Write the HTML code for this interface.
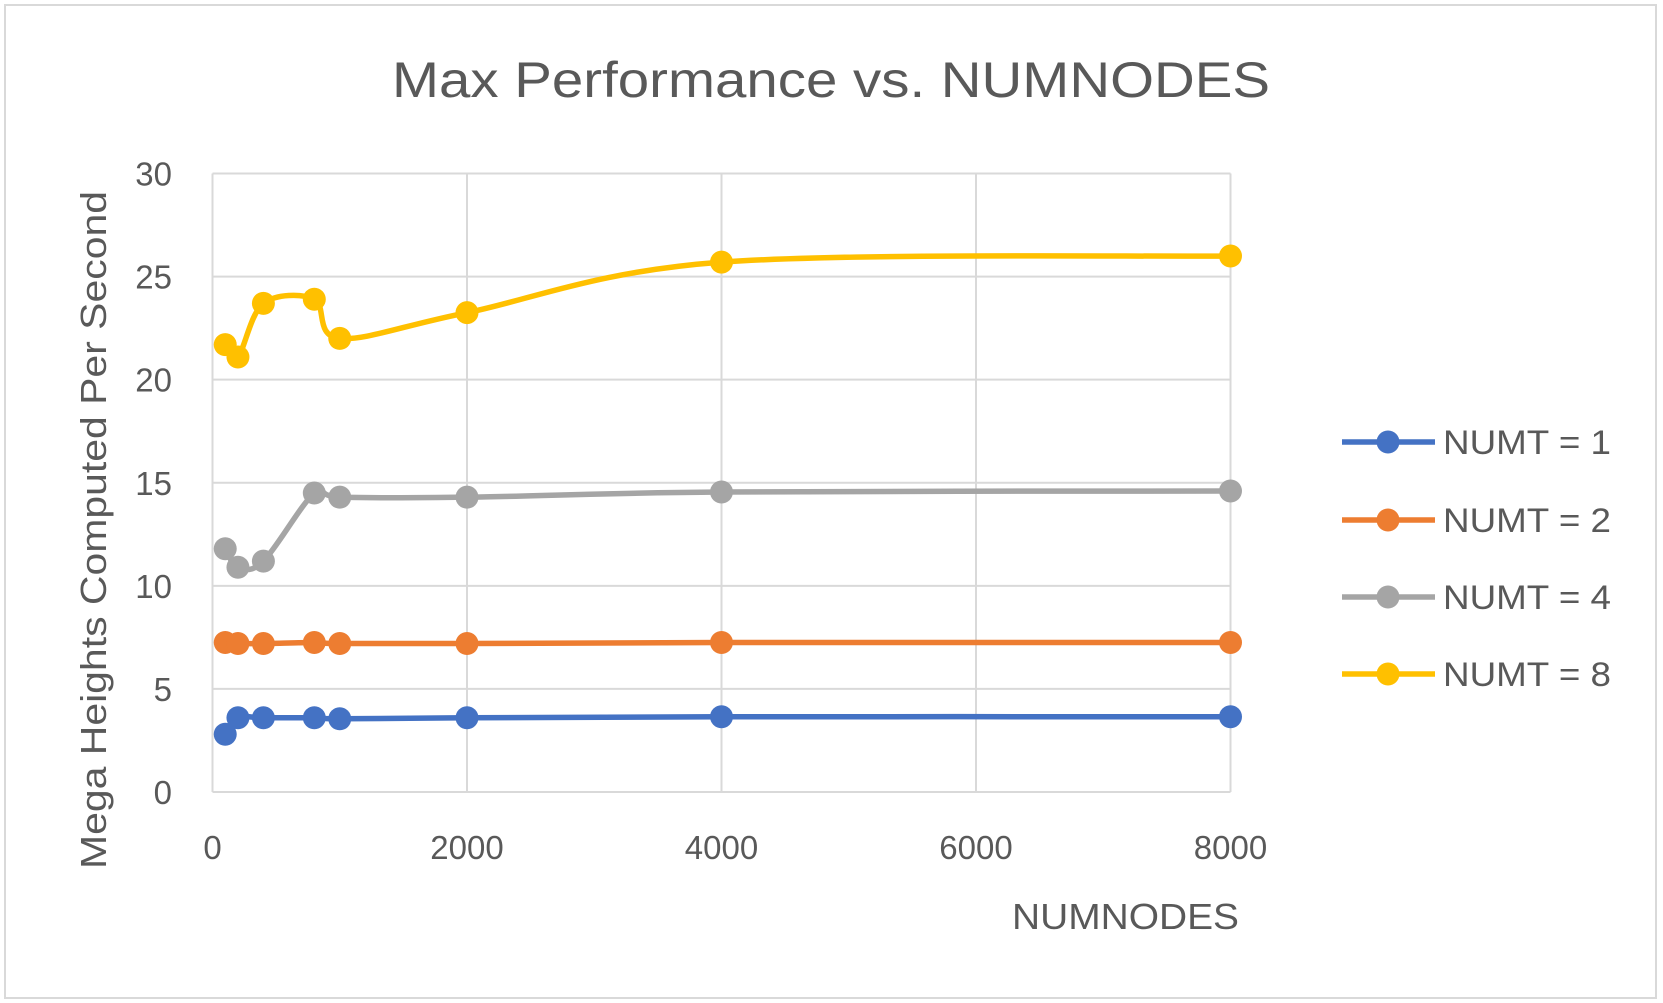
<!DOCTYPE html>
<html><head><meta charset="utf-8"><style>
html,body{margin:0;padding:0;background:#fff;}
svg{display:block;font-family:"Liberation Sans",sans-serif;}
</style></head><body>
<svg id="chart" width="1663" height="1003" viewBox="0 0 1663 1003">
<rect x="5" y="5" width="1651" height="993" fill="#fff" stroke="#d9d9d9" stroke-width="2"/>
<text x="831" y="97" text-anchor="middle" font-size="50" fill="#595959" textLength="878" lengthAdjust="spacingAndGlyphs">Max Performance vs. NUMNODES</text>
<g id="grid"></g>
<g id="series"></g>
<text transform="translate(106,530) rotate(-90)" text-anchor="middle" font-size="36" fill="#595959" textLength="678" lengthAdjust="spacingAndGlyphs">Mega Heights Computed Per Second</text>
<text x="1239" y="929" text-anchor="end" font-size="36" fill="#595959" textLength="227" lengthAdjust="spacingAndGlyphs">NUMNODES</text>
<g id="legend"></g>
</svg>
<script>
const xValues = [100, 200, 400, 800, 1000, 2000, 4000, 8000];
const seriesNames = ["NUMT = 1", "NUMT = 2", "NUMT = 4", "NUMT = 8"];
const numt1 = [2.8, 3.6, 3.6, 3.6, 3.55, 3.6, 3.65, 3.65];
const numt2 = [7.25, 7.2, 7.2, 7.25, 7.2, 7.2, 7.25, 7.25];
const numt4 = [11.8, 10.9, 11.2, 14.5, 14.3, 14.3, 14.55, 14.6];
const numt8 = [21.7, 21.1, 23.7, 23.9, 22.0, 23.25, 25.7, 26.0];
const xTicks = [0, 2000, 4000, 6000, 8000];
const yTicks = [0, 5, 10, 15, 20, 25, 30];

const NS = "http://www.w3.org/2000/svg";
const L = 212.5, R = 1230.5, T = 173.5, B = 792;
const colors = ["#4472C4", "#ED7D31", "#A5A5A5", "#FFC000"];
function sx(v){ return L + (v - 0) / 8000 * (R - L); }
function sy(v){ return B - v / 30 * (B - T); }
function mk(tag, attrs, parent){ const e = document.createElementNS(NS, tag); for (const k in attrs) e.setAttribute(k, attrs[k]); parent.appendChild(e); return e; }

const grid = document.getElementById("grid");
yTicks.forEach(t => {
  const ln = mk("line", {x1: L, x2: R, y1: sy(t), y2: sy(t), stroke: "#d9d9d9", "stroke-width": 2}, grid);
  
  
  const tx = mk("text", {x: 172, y: sy(t) + 12, "text-anchor": "end", "font-size": 33, fill: "#595959"}, grid);
  tx.textContent = t;
  
  
});
xTicks.forEach(t => {
  const ln = mk("line", {x1: sx(t), x2: sx(t), y1: T, y2: B, stroke: "#d9d9d9", "stroke-width": 2}, grid);
  
  
  const tx = mk("text", {x: sx(t), y: 859, "text-anchor": "middle", "font-size": 33, fill: "#595959"}, grid);
  tx.textContent = t;
  
  
});

function smoothPath(pts){
  let d = "M" + pts[0][0] + "," + pts[0][1];
  for (let i = 0; i < pts.length - 1; i++){
    const p0 = pts[i-1] || pts[i], p1 = pts[i], p2 = pts[i+1], p3 = pts[i+2] || p2;
    const c1 = [p1[0] + (p2[0]-p0[0])/6, p1[1] + (p2[1]-p0[1])/6];
    const c2 = [p2[0] - (p3[0]-p1[0])/6, p2[1] - (p3[1]-p1[1])/6];
    d += " C" + c1 + " " + c2 + " " + p2;
  }
  return d;
}

const series = document.getElementById("series");
[numt1, numt2, numt4, numt8].forEach((vals, si) => {
  const g = mk("g", {}, series);
  
  
  const pts = vals.map((v, i) => [sx(xValues[i]), sy(v)]);
  const p = mk("path", {d: smoothPath(pts), fill: "none", stroke: colors[si], "stroke-width": 5.5, "stroke-linejoin": "round"}, g);
  
  
  pts.forEach(pt => {
    const c = mk("circle", {cx: pt[0], cy: pt[1], r: 11.5, fill: colors[si]}, g);
    
    
  });
});

const legend = document.getElementById("legend");
const legY = [442, 520, 597, 674];
seriesNames.forEach((n, i) => {
  const g = mk("g", {}, legend);
  
  
  mk("line", {x1: 1342, x2: 1435, y1: legY[i], y2: legY[i], stroke: colors[i], "stroke-width": 5.5}, g);
  mk("circle", {cx: 1388, cy: legY[i], r: 11.5, fill: colors[i]}, g);
  const t = mk("text", {x: 1443, y: legY[i] + 12, "font-size": 34, fill: "#595959", textLength: 168, lengthAdjust: "spacingAndGlyphs"}, g);
  t.textContent = n;
  
  
});
</script>
</body></html>
